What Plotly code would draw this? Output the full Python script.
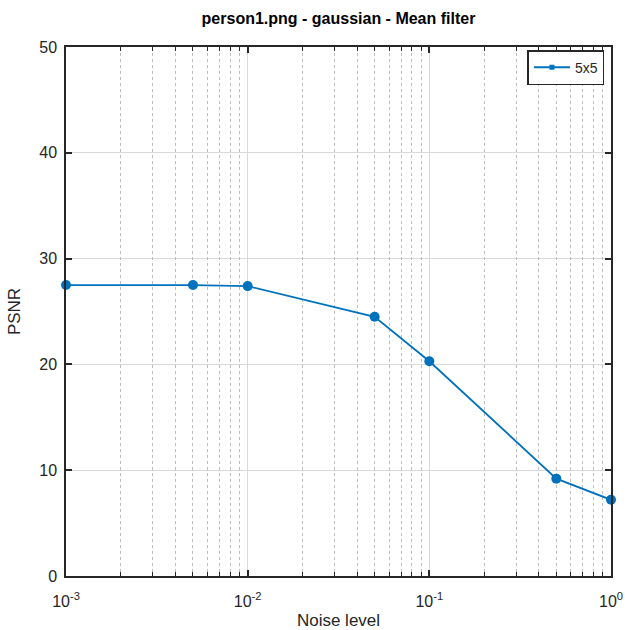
import plotly.graph_objects as go

noise = [0.001, 0.005, 0.01, 0.05, 0.1, 0.5, 1.0]
psnr_5x5 = [27.5, 27.5, 27.4, 24.5, 20.3, 9.2, 7.2]
x_tickvals = [0.001, 0.01, 0.1, 1]
x_ticktext = ["10<sup>-3</sup>", "10<sup>-2</sup>", "10<sup>-1</sup>", "10<sup>0</sup>"]
x_minor_vals = [m * d for d in (0.001, 0.01, 0.1) for m in range(2, 10)]
y_tickvals = [0, 10, 20, 30, 40, 50]

color = "#0072BD"
axis_color = "#262626"
font = "Liberation Sans, Arial, sans-serif"

fig = go.Figure()
# minor grid carrier (invisible)
fig.add_trace(go.Scatter(x=noise, y=psnr_5x5, mode="none", xaxis="x2",
                         showlegend=False, hoverinfo="skip"))
fig.add_trace(go.Scatter(
    x=noise, y=psnr_5x5, mode="lines+markers", name="5x5",
    line=dict(color=color, width=1.8),
    marker=dict(color=color, size=10, symbol="circle"),
    cliponaxis=False, showlegend=False,
))
# legend entry (small marker like the original)
fig.add_trace(go.Scatter(
    x=[None], y=[None], mode="lines+markers", name="5x5",
    line=dict(color=color, width=1.8),
    marker=dict(color=color, size=5, symbol="square"),
))

fig.update_layout(
    width=625, height=630,
    margin=dict(l=66, r=14, t=47, b=54),
    paper_bgcolor="white", plot_bgcolor="white",
    font=dict(family=font, size=16, color=axis_color),
    title=dict(text="<b>person1.png - gaussian - Mean filter</b>", x=(66 + 611) / 2 / 625,
               xanchor="center", y=1 - 18 / 630, yanchor="middle",
               font=dict(size=16, color="#000000")),
    showlegend=True,
    legend=dict(x=0.988, y=0.994, xanchor="right", yanchor="top",
                bgcolor="white", bordercolor=axis_color, borderwidth=1.5,
                font=dict(size=14, color=axis_color), itemwidth=36),
    xaxis=dict(type="log", range=[-3, 0], tickvals=x_tickvals, ticktext=x_ticktext,
               automargin=False,
               showline=True, linecolor=axis_color, linewidth=1.5, mirror="ticks",
               ticks="inside", ticklen=6, tickcolor=axis_color, tickwidth=1.5,
               showgrid=True, gridcolor="#d9d9d9", gridwidth=1, zeroline=False,
               tickfont=dict(size=16), ticklabelstandoff=10,
               title=dict(text="Noise level", font=dict(size=17), standoff=8)),
    xaxis2=dict(type="log", range=[-3, 0], tickvals=x_minor_vals, overlaying="x",
                anchor="y", showticklabels=False, showline=True, linecolor=axis_color,
                linewidth=1.5, mirror="ticks", automargin=False,
                ticks="inside", ticklen=4, tickcolor=axis_color, tickwidth=1,
                showgrid=True, gridcolor="#bdbdbd", griddash="dot", gridwidth=1,
                zeroline=False, layer="below traces"),
    yaxis=dict(range=[0, 50], tickvals=y_tickvals, automargin=False,
               showline=True, linecolor=axis_color, linewidth=1.5, mirror="ticks",
               ticks="inside", ticklen=6, tickcolor=axis_color, tickwidth=1.5,
               showgrid=True, gridcolor="#d9d9d9", gridwidth=1, zeroline=False,
               tickfont=dict(size=16), ticklabelstandoff=4,
               title=dict(text="PSNR", font=dict(size=17), standoff=14)),
)

fig.write_html("out.html")
